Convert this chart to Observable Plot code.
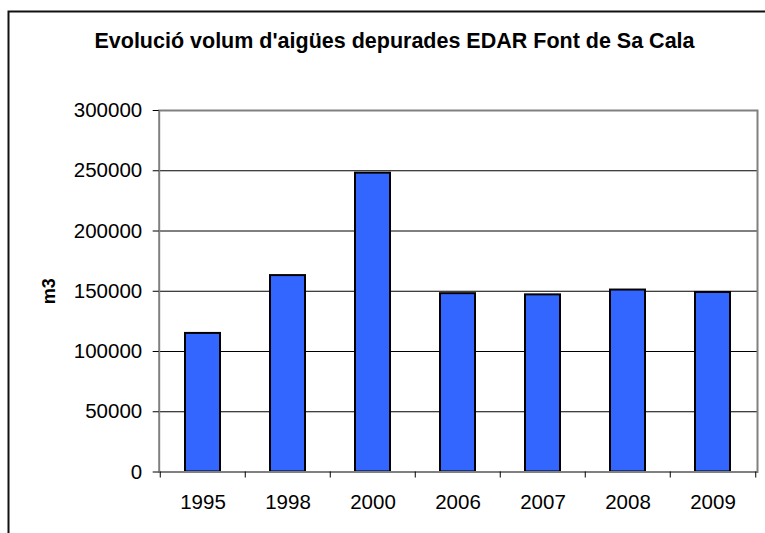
<!DOCTYPE html>
<html><head><meta charset="utf-8">
<script src="https://cdn.jsdelivr.net/npm/d3@7"></script>
<script src="https://cdn.jsdelivr.net/npm/@observablehq/plot@0.6"></script>
<style>body{margin:0;background:#fff}</style>
</head><body><div id="chart"></div>
<script>
const years = ["1995","1998","2000","2006","2007","2008","2009"];
const volumes = [115000,163000,248000,148000,147000,151000,149000];
const yTicks = [0,50000,100000,150000,200000,250000,300000];
const gridValues = [50000,100000,150000,200000,250000];
const titleText = "Evolució volum d'aigües depurades EDAR Font de Sa Cala";
const yLabel = "m3";
const data = years.map((y,i)=>({year:y, value:volumes[i]}));

const W=765,H=533, mL=158.7, mR=8, mT=110, mB=61.5;
const step = (W-mL-mR)/years.length;
const plot = Plot.plot({
  width:W, height:H, marginLeft:mL, marginRight:mR, marginTop:mT, marginBottom:mB,
  style:{fontFamily:"'Liberation Sans', Arial, sans-serif", fontSize:"20.5px", color:"#000", background:"#fff", overflow:"visible"},
  x:{domain:years, paddingInner:0.59, paddingOuter:0.295},
  y:{domain:[0,300000]},
  marks:[
    Plot.ruleY(gridValues,{stroke:"#000", strokeWidth:1}),
    Plot.barY(data,{x:"year", y:"value", fill:"#3366ff", stroke:"#000", strokeWidth:2}),
    Plot.frame({stroke:"#808080", strokeWidth:2}),
    Plot.axisY(yTicks,{tickSize:6, tickPadding:11, tickFormat:d3.format("d"), label:null, stroke:"#000"}),
    Plot.axisX(years,{tickSize:0, tickPadding:22, label:null}),
    Plot.ruleX(years,{x:d=>d, dx:-step/2, y1:0, y2:-5000, stroke:"#000"}),
    Plot.ruleX([years[years.length-1]],{x:d=>d, dx:step/2, y1:0, y2:-5000, stroke:"#000"}),
    Plot.text([titleText],{text:d=>d, frameAnchor:"top-left", dx:394-mL, dy:-69, lineAnchor:"middle", textAnchor:"middle", fontWeight:"bold", fontSize:21.5}),
    Plot.text([yLabel],{text:d=>d, frameAnchor:"left", dx:-110, rotate:-90, fontWeight:"bold", fontSize:18, textAnchor:"middle", lineAnchor:"middle"})
  ]
});
d3.select(plot).append("path")
  .attr("d","M8.5,533V11.5H765")
  .attr("fill","none").attr("stroke","#111").attr("stroke-width",2);
document.getElementById("chart").appendChild(plot);
</script>
</body></html>
